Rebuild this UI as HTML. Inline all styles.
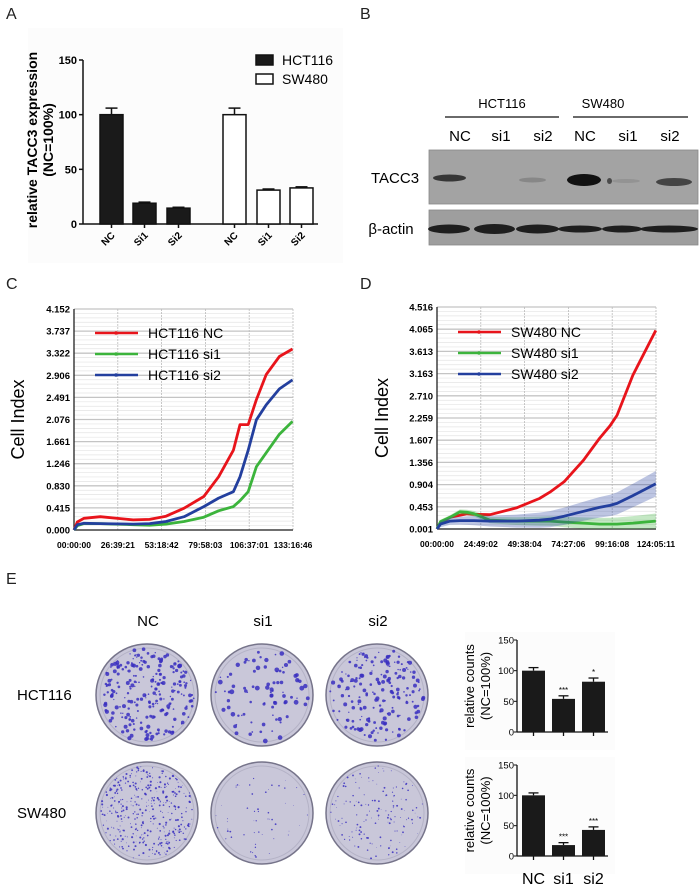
<!DOCTYPE html>
<html><head><meta charset="utf-8"><style>
body{margin:0;background:#fff}
svg{display:block;font-family:"Liberation Sans",Arial,sans-serif}
</style></head><body>
<svg id="fig" width="700" height="891" viewBox="0 0 700 891">
<rect x="0" y="0" width="700" height="891" fill="#fff"/>
<g font-size="16" fill="#222">
<text x="6" y="19">A</text>
<text x="360" y="19">B</text>
<text x="6" y="289">C</text>
<text x="360" y="289">D</text>
<text x="6" y="584">E</text>
</g>
<rect x="28" y="28" width="315" height="235" fill="#fcfcfc"/>
<g id="pa"></g>
<g id="pb"></g>
<g id="pc"></g>
<g id="pd"></g>
<g id="pe"></g>
<g id="pe1"></g>
<g id="pe2"></g>
</svg>
<script>
// ---- Panel A data ----
const aCategories = ["NC","Si1","Si2","NC","Si1","Si2"];
const aGroups = ["HCT116","HCT116","HCT116","SW480","SW480","SW480"];
const aValues = [100, 19, 14.5, 100, 31, 33];
const aErrors = [6, 1, 0.8, 6, 1, 1];
const aTicks = [0, 50, 100, 150];
// ---- Panel C data ----
const cTime = [0, 2, 6, 16, 36, 46, 56, 67, 79, 88, 97, 101, 106, 111, 117, 125, 133];
const cNC  = [0, 0.15, 0.22, 0.25, 0.19, 0.2, 0.26, 0.41, 0.63, 1.0, 1.5, 1.98, 1.98, 2.45, 2.92, 3.26, 3.4];
const cSi1 = [0, 0.08, 0.12, 0.12, 0.1, 0.09, 0.11, 0.16, 0.24, 0.36, 0.44, 0.55, 0.72, 1.19, 1.45, 1.8, 2.04];
const cSi2 = [0, 0.1, 0.125, 0.12, 0.11, 0.12, 0.16, 0.25, 0.44, 0.6, 0.72, 1.0, 1.5, 2.07, 2.35, 2.65, 2.82];
const cYTicks = ["0.000","0.415","0.830","1.246","1.661","2.076","2.491","2.906","3.322","3.737","4.152"];
const cXTicks = ["00:00:00","26:39:21","53:18:42","79:58:03","106:37:01","133:16:46"];
// ---- Panel D data ----
const dTime = [0, 2, 7.5, 13, 17, 21, 30, 45, 58, 64, 72, 83, 92, 98, 102, 111, 124];
const dNC  = [0, 0.12, 0.24, 0.28, 0.31, 0.3, 0.29, 0.43, 0.62, 0.75, 0.96, 1.4, 1.84, 2.1, 2.31, 3.13, 4.04];
const dSi1 = [0, 0.15, 0.24, 0.35, 0.34, 0.31, 0.18, 0.16, 0.16, 0.16, 0.14, 0.12, 0.1, 0.1, 0.1, 0.12, 0.16];
const dSi2 = [0, 0.1, 0.16, 0.17, 0.17, 0.17, 0.16, 0.16, 0.18, 0.2, 0.26, 0.36, 0.44, 0.48, 0.52, 0.68, 0.92];
const dYTicks = ["0.001","0.453","0.904","1.356","1.607","2.259","2.710","3.163","3.613","4.065","4.516"];
const dXTicks = ["00:00:00","24:49:02","49:38:04","74:27:06","99:16:08","124:05:11"];
// ---- Panel E data ----
const eCategories = ["NC","si1","si2"];
const eHctValues = [100, 54, 82];
const eHctErrors = [5, 5, 6];
const eHctStars = ["", "***", "*"];
const eSwValues = [100, 18, 43];
const eSwErrors = [4, 4, 5];
const eSwStars = ["", "***", "***"];
const eTicks = [0, 50, 100, 150];

const NS="http://www.w3.org/2000/svg";
function mk(p,tag,at,txt){const e=document.createElementNS(NS,tag);for(const k in at)e.setAttribute(k,at[k]);if(txt!==undefined)e.textContent=txt;p.appendChild(e);return e;}

// ===== Panel A =====
(function(){
const g=document.getElementById('pa');
const y0=224,y1=60,ax=83;
const ys=v=>y0-(v-0)/150*(y0-y1);
const barX=[100,133,167,223,257,290], bw=23;
const ln=mk(g,'line',{x1:ax,y1:y1,x2:ax,y2:y0,stroke:'#111','stroke-width':1.5});

const bl=mk(g,'line',{x1:ax,y1:y0,x2:318,y2:y0,stroke:'#111','stroke-width':1.5});

aTicks.forEach(t=>{
  mk(g,'line',{x1:ax-4,y1:ys(t),x2:ax,y2:ys(t),stroke:'#111','stroke-width':1.5});
  const tx=mk(g,'text',{x:ax-6,y:ys(t)+4,'text-anchor':'end','font-size':11,'font-weight':'bold'},t);
  
});
aValues.forEach((v,i)=>{
  const x=barX[i],open=aGroups[i]==='SW480';
  const cx=x+bw/2;
  mk(g,'line',{x1:cx,y1:ys(v+aErrors[i]),x2:cx,y2:ys(v),stroke:'#111','stroke-width':1.5});
  mk(g,'line',{x1:cx-6,y1:ys(v+aErrors[i]),x2:cx+6,y2:ys(v+aErrors[i]),stroke:'#111','stroke-width':1.5});
  if(open){mk(g,'line',{x1:cx-6,y1:ys(v-aErrors[i]),x2:cx+6,y2:ys(v-aErrors[i]),stroke:'#111','stroke-width':1.5});mk(g,'line',{x1:cx,y1:ys(v),x2:cx,y2:ys(v-aErrors[i]),stroke:'#111','stroke-width':1.5});}
  const r=mk(g,'rect',{x:x,y:ys(v),width:bw,height:y0-ys(v),fill:open?'#fff':'#1a1a1a',stroke:'#111','stroke-width':1.5});
  
  
  mk(g,'line',{x1:cx,y1:y0,x2:cx,y2:y0+4,stroke:'#111','stroke-width':1.5});
  const t=mk(g,'text',{x:0,y:0,'font-size':10,'font-weight':'bold','text-anchor':'end',transform:`translate(${cx+4},${y0+12}) rotate(-45)`},aCategories[i]);
  
});
const t1=mk(g,'text',{x:0,y:0,'font-size':14,'font-weight':'bold','text-anchor':'middle',transform:'translate(37,140) rotate(-90)'},'relative TACC3 expression');

const t2=mk(g,'text',{x:0,y:0,'font-size':14,'font-weight':'bold','text-anchor':'middle',transform:'translate(53,140) rotate(-90)'},'(NC=100%)');

[['HCT116','#1a1a1a',55],['SW480','#fff',74]].forEach(([n,f,y])=>{
  const r=mk(g,'rect',{x:256,y:y,width:17,height:10,fill:f,stroke:'#111','stroke-width':1.5});
  
  const t=mk(g,'text',{x:282,y:y+10,'font-size':14},n);
  
});
})();

// ===== Panel B =====
(function(){
const g=document.getElementById('pb');
[['HCT116',502,445,559],['SW480',603,573,688]].forEach(([n,cx,a,b])=>{
  const t=mk(g,'text',{x:cx,y:108,'text-anchor':'middle','font-size':13},n);
  
  mk(g,'line',{x1:a,y1:117,x2:b,y2:117,stroke:'#111','stroke-width':1.3});
});
const lanes=['NC','si1','si2','NC','si1','si2'], lx=[460,501,543,585,628,670];
lanes.forEach((l,i)=>{const t=mk(g,'text',{x:lx[i],y:141,'text-anchor':'middle','font-size':15},l);
});
const b1=mk(g,'rect',{x:429,y:150,width:269,height:54,fill:'#a3a3a3',stroke:'#888','stroke-width':0.8});

const b2=mk(g,'rect',{x:429,y:210,width:269,height:35,fill:'#9e9e9e',stroke:'#888','stroke-width':0.8});

const bands=[[433,466,178,7,'#2a2a2a',0.9],[519,546,180,5,'#7a7a7a',0.7],[567,601,180,12,'#111',1],[607,612,181,6,'#333',0.8],[612,640,181,4,'#888',0.6],[656,692,182,8,'#3a3a3a',0.9]];
bands.forEach(([a,b,y,h,c,o])=>{const e=mk(g,'ellipse',{cx:(a+b)/2,cy:y,rx:(b-a)/2,ry:h/2,fill:c,opacity:o});
});
[[430,468,9],[476,513,10],[518,557,9],[560,600,7],[604,640,7],[642,696,7]].forEach(([a,b,h])=>{
  const e=mk(g,'ellipse',{cx:(a+b)/2,cy:229,rx:(b-a)/2+2,ry:h/2,fill:'#1e1e1e'});
  });
const t1=mk(g,'text',{x:395,y:183,'text-anchor':'middle','font-size':15},'TACC3');

const t2=mk(g,'text',{x:391,y:234,'text-anchor':'middle','font-size':15},'β-actin');

})();

// ===== Panels C/D =====
function lineChart(id,opt){
const g=document.getElementById(id);
const {x0,x1,yT,yB,ymax,tmax,yt,xt,series,names,pre,band}=opt;
const xs=t=>x0+t/tmax*(x1-x0), ys=v=>yB-v/ymax*(yB-yT);
const n=yt.length-1, step=(yB-yT)/n;
for(let i=0;i<n*5;i++){const y=yT+i*step/5; if(i%5)mk(g,'line',{x1:x0,y1:y,x2:x1,y2:y,stroke:'#e4e4e4','stroke-width':0.7});}
yt.forEach((l,i)=>{const y=yB-i*step;
  mk(g,'line',{x1:x0,y1:y,x2:x1,y2:y,stroke:'#c4c4c4','stroke-width':1.3});
  const t=mk(g,'text',{x:x0-4,y:y+3.5,'text-anchor':'end','font-size':9.5,'font-weight':'bold'},l);
  });
xt.forEach((l,i)=>{const x=x0+i*(x1-x0)/(xt.length-1);
  if(i>0)mk(g,'line',{x1:x,y1:yT,x2:x,y2:yB,stroke:'#bbb','stroke-width':0.8,'stroke-dasharray':'2,1'});
  const t=mk(g,'text',{x:x,y:yB+18,'text-anchor':'middle','font-size':8.5,'font-weight':'bold'},l);
  });
mk(g,'line',{x1:x0,y1:yT,x2:x0,y2:yB,stroke:'#222','stroke-width':1.3});
mk(g,'line',{x1:x0,y1:yB,x2:x1,y2:yB,stroke:'#222','stroke-width':1.3});
const colors=['#e8141b','#3cb43c','#233f9e'];
series.forEach((s,k)=>{
  const d=s.t.map((t,i)=>(i?'L':'M')+xs(t).toFixed(1)+','+ys(s.v[i]).toFixed(1)).join('');
  if(band&&band[k]){const bw=band[k];
    const up=s.t.map((t,i)=>xs(t).toFixed(1)+','+ys(s.v[i]+bw*(t/tmax+0.3)).toFixed(1));
    const dn=s.t.map((t,i)=>xs(t).toFixed(1)+','+ys(Math.max(0,s.v[i]-bw*(t/tmax+0.3))).toFixed(1)).reverse();
    const p=mk(g,'polygon',{points:up.concat(dn).join(' '),fill:colors[k],opacity:0.3});
    }
  const p=mk(g,'path',{d:d,fill:'none',stroke:colors[k],'stroke-width':2.8,'stroke-linejoin':'round'});
  
  
});
names.forEach((nm,k)=>{const y=opt.ly+k*21;
  mk(g,'line',{x1:opt.lx,y1:y,x2:opt.lx+43,y2:y,stroke:colors[k],'stroke-width':2.6});
  mk(g,'circle',{cx:opt.lx+21,cy:y,r:1.8,fill:colors[k]});
  const t=mk(g,'text',{x:opt.lx+53,y:y+5,'font-size':14},nm);
  });
const t=mk(g,'text',{x:0,y:0,'font-size':18,'text-anchor':'middle',transform:`translate(${opt.tx},${(yT+yB)/2}) rotate(-90)`},'Cell Index');

}
lineChart('pc',{x0:74,x1:293,yT:309,yB:530,ymax:4.152,tmax:133.28,yt:cYTicks,xt:cXTicks,pre:'c',
 series:[{t:cTime,v:cNC},{t:cTime,v:cSi1},{t:cTime,v:cSi2}],names:['HCT116 NC','HCT116 si1','HCT116 si2'],lx:95,ly:333,tx:24});
lineChart('pd',{x0:437,x1:656,yT:307,yB:529,ymax:4.516,tmax:124.09,yt:dYTicks,xt:dXTicks,pre:'d',
 series:[{t:dTime,v:dNC},{t:dTime,v:dSi1},{t:dTime,v:dSi2}],names:['SW480 NC','SW480 si1','SW480 si2'],lx:458,ly:332,tx:388,band:[0,0.12,0.2]});

// ===== Panel E plates =====
(function(){
const g=document.getElementById('pe');
let seed=7;const rnd=()=>{seed=(seed*16807)%2147483647;return seed/2147483647;};
const cols=[147,262,377], rows=[695,813];
const dens=[[240,90,190],[380,55,150]], sizes=[[1.5,1.8,1.5],[0.8,0.65,0.7]];
['NC','si1','si2'].forEach((l,i)=>{const t=mk(g,'text',{x:cols[i]+1,y:626,'text-anchor':'middle','font-size':15},l);
 });
['HCT116','SW480'].forEach((l,j)=>{const t=mk(g,'text',{x:17,y:rows[j]+5,'font-size':15},l);
 });
rows.forEach((cy,j)=>cols.forEach((cx,i)=>{
  const c=mk(g,'ellipse',{cx:cx,cy:cy,rx:51,ry:51,fill:'#c9c7d9',stroke:'#76748a','stroke-width':1.5});
  
  mk(g,'ellipse',{cx:cx,cy:cy,rx:47,ry:47,fill:'none',stroke:'#b4b2c6','stroke-width':1});
  for(let k=0;k<dens[j][i];k++){const a=rnd()*6.283,r=Math.sqrt(rnd())*47;
    mk(g,'circle',{cx:(cx+r*Math.cos(a)).toFixed(1),cy:(cy+r*Math.sin(a)).toFixed(1),r:(sizes[j][i]*(0.4+rnd())).toFixed(2),fill:'#3a2fbf',opacity:0.85});}
}));
})();

// ===== Panel E bar charts =====
function eBars(id,vals,errs,stars,yT,yB,pre,xl){
const g=document.getElementById(id);
mk(g,'rect',{x:465,y:yT-8,width:150,height:yB-yT+26,fill:'#fcfcfc'});
const ax=517, ys=v=>yB-v/150*(yB-yT), bx=[522,552,582], bw=23;
mk(g,'line',{x1:ax,y1:yT,x2:ax,y2:yB,stroke:'#111','stroke-width':1.3});
mk(g,'line',{x1:ax,y1:yB,x2:608,y2:yB,stroke:'#111','stroke-width':1.3});
eTicks.forEach(t=>{mk(g,'line',{x1:ax-3,y1:ys(t),x2:ax,y2:ys(t),stroke:'#111'});
 const tx=mk(g,'text',{x:ax-3,y:ys(t)+3.5,'text-anchor':'end','font-size':9.5},t);
 });
vals.forEach((v,i)=>{const cx=bx[i]+bw/2;
 mk(g,'line',{x1:cx,y1:ys(v+errs[i]),x2:cx,y2:ys(v),stroke:'#111','stroke-width':1.3});
 mk(g,'line',{x1:cx-5,y1:ys(v+errs[i]),x2:cx+5,y2:ys(v+errs[i]),stroke:'#111','stroke-width':1.3});
 const r=mk(g,'rect',{x:bx[i],y:ys(v),width:bw,height:yB-ys(v),fill:'#1a1a1a'});
 
 mk(g,'line',{x1:cx,y1:yB,x2:cx,y2:yB+4,stroke:'#111','stroke-width':1.3});
 if(stars[i]){const s=mk(g,'text',{x:cx,y:ys(v+errs[i])-3,'text-anchor':'middle','font-size':8},stars[i]);
  }
 if(xl){const t=mk(g,'text',{x:cx,y:yB+28,'text-anchor':'middle','font-size':16},eCategories[i]);
  }
});
const cy=(yT+yB)/2;
const a=mk(g,'text',{x:0,y:0,'font-size':13,'text-anchor':'middle',transform:`translate(474,${cy}) rotate(-90)`},'relative counts');

const b=mk(g,'text',{x:0,y:0,'font-size':13,'text-anchor':'middle',transform:`translate(490,${cy}) rotate(-90)`},'(NC=100%)');

}
eBars('pe1',eHctValues,eHctErrors,eHctStars,640,732,'e-hct116',false);
eBars('pe2',eSwValues,eSwErrors,eSwStars,765,856,'e-sw480',true);
</script>
</body></html>
